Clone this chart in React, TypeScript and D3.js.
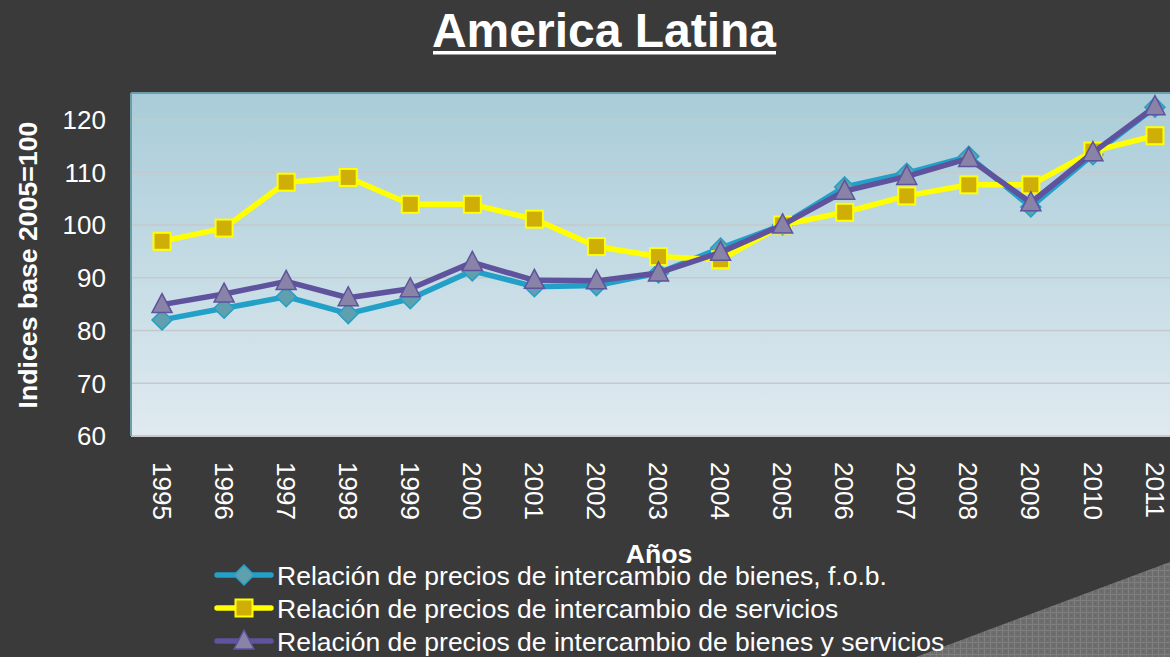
import React from "react";
import * as d3 from "d3";

const years = ["1995","1996","1997","1998","1999","2000","2001","2002","2003","2004","2005","2006","2007","2008","2009","2010","2011"];
const bienes = [82.0,84.2,86.4,83.2,86.0,91.3,88.3,88.5,90.9,95.6,100,107.2,109.8,113.0,103.4,113.3,122.3];
const servicios = [96.9,99.4,108.1,109.0,103.9,103.9,101.1,95.9,94.0,93.4,100,102.4,105.5,107.6,107.6,114.0,116.9];
const bienesYServicios = [84.9,86.9,89.3,86.2,87.9,92.9,89.5,89.4,90.9,94.8,100,106.4,109.2,112.6,104.2,113.7,122.4];
const yTicks = [60,70,80,90,100,110,120];
const legendLabels = [
  "Relación de precios de intercambio de bienes, f.o.b.",
  "Relación de precios de intercambio de servicios",
  "Relación de precios de intercambio de bienes y servicios",
];

const W = 1170, H = 657;
const FONT = "'Liberation Sans', Arial, sans-serif";

export default function App() {
  const x = d3.scaleBand<string>().domain(years).range([131, 1186]).padding(0);
  const cx = (y: string) => (x(y) as number) + x.bandwidth() / 2;
  const y = d3.scaleLinear().domain([60, 125]).range([436, 93]);
  const line = d3.line<number>().x((_, i) => cx(years[i])).y((d) => y(d));

  const series = [
    { data: bienes, color: "#23a0c8", marker: "diamond", fill: "#5f9fae", stroke: "#23a0c8" },
    { data: servicios, color: "#ffff00", marker: "square", fill: "#d0ae08", stroke: "#ffff00" },
    { data: bienesYServicios, color: "#5e539c", marker: "triangle", fill: "#8a83a8", stroke: "#5e539c" },
  ];

  const marker = (type: string, px: number, py: number, fill: string, stroke: string, key: any) => {
    if (type === "diamond") {
      const s = 10;
      return <path key={key} d={`M${px},${py - s}L${px + s},${py}L${px},${py + s}L${px - s},${py}Z`} fill={fill} stroke={stroke} strokeWidth={1.5} />;
    }
    if (type === "square") {
      const s = 8.5;
      return <rect key={key} x={px - s} y={py - s} width={2 * s} height={2 * s} fill={fill} stroke={stroke} strokeWidth={2} />;
    }
    const s = 10;
    return <path key={key} d={`M${px},${py - s - 1}L${px + s},${py + s - 2}L${px - s},${py + s - 2}Z`} fill={fill} stroke={stroke} strokeWidth={1.5} />;
  };

  return (
    <div style={{ position: "absolute", left: 0, top: 0 }}>
      <svg width={W} height={H} style={{ display: "block", fontFamily: FONT }}>
        <defs>
          <linearGradient id="plotbg" x1="0" y1="0" x2="0" y2="1">
            <stop offset="0" stopColor="#a8ccd8" />
            <stop offset="1" stopColor="#e0eaf0" />
          </linearGradient>
          <pattern id="grid" width="6" height="6" patternUnits="userSpaceOnUse">
            <rect width="6" height="6" fill="#6e6e6e" />
            <path d="M0,0.5H6M0.5,0V6" stroke="#7e7e7e" strokeWidth={1} />
            <rect x="3" y="3" width="1" height="1" fill="#606060" />
          </pattern>
        </defs>
        <rect width={W} height={H} fill="#3a3a3a" />
        <path d={`M916,${H}L${W},562L${W},${H}Z`} fill="url(#grid)" />

        <text x={604} y={47} textAnchor="middle" fill="#ffffff" fontSize={48} fontWeight="bold">America Latina</text>
        <rect x={433} y={51} width={343} height={3.5} fill="#ffffff" />

        <rect x={131} y={93} width={1186 - 131} height={436 - 93} fill="url(#plotbg)" />
        {yTicks.filter((t) => t > 60).map((t) => (
          <line key={t} x1={131} x2={1186} y1={y(t)} y2={y(t)} stroke="#c6c9cb" strokeWidth={1.5} />
        ))}
        <line x1={131} x2={1186} y1={y(60)} y2={y(60)} stroke="#c8c8c8" strokeWidth={2} />
        <line x1={131} x2={1186} y1={93} y2={93} stroke="#6d9cab" strokeWidth={2} />
        <line x1={131} x2={131} y1={93} y2={436} stroke="#6d9cab" strokeWidth={2} />

        {yTicks.map((t) => (
          <text key={t} x={106} y={y(t)} dy="0.36em" textAnchor="end" fill="#ffffff" fontSize={26}>{t}</text>
        ))}
        {years.map((yr) => (
          <text key={yr} transform={`translate(${cx(yr)},462) rotate(90)`} dy="0.36em" textAnchor="start" fill="#ffffff" fontSize={26}>{yr}</text>
        ))}
        <text transform="translate(37,265) rotate(-90)" textAnchor="middle" fill="#ffffff" fontSize={26.67} fontWeight="bold">Indices base 2005=100</text>
        <text x={659} y={563} textAnchor="middle" fill="#ffffff" fontSize={26.67} fontWeight="bold">Años</text>

        {series.map((s, si) => (
          <g key={si}>
            <path d={line(s.data) as string} fill="none" stroke={s.color} strokeWidth={5.5} strokeLinejoin="round" />
            {s.data.map((v, i) => marker(s.marker, cx(years[i]), y(v), s.fill, s.stroke, i))}
          </g>
        ))}

        {series.map((s, si) => {
          const ly = 575 + si * 33;
          return (
            <g key={"lg" + si}>
              <line x1={217} x2={271} y1={ly} y2={ly} stroke={s.color} strokeWidth={5.5} strokeLinecap="round" />
              {marker(s.marker, 244, ly, s.fill, s.stroke, "m")}
              <text x={277} y={ly + 9.5} fill="#ffffff" fontSize={26.5}>{legendLabels[si]}</text>
            </g>
          );
        })}
      </svg>
    </div>
  );
}
